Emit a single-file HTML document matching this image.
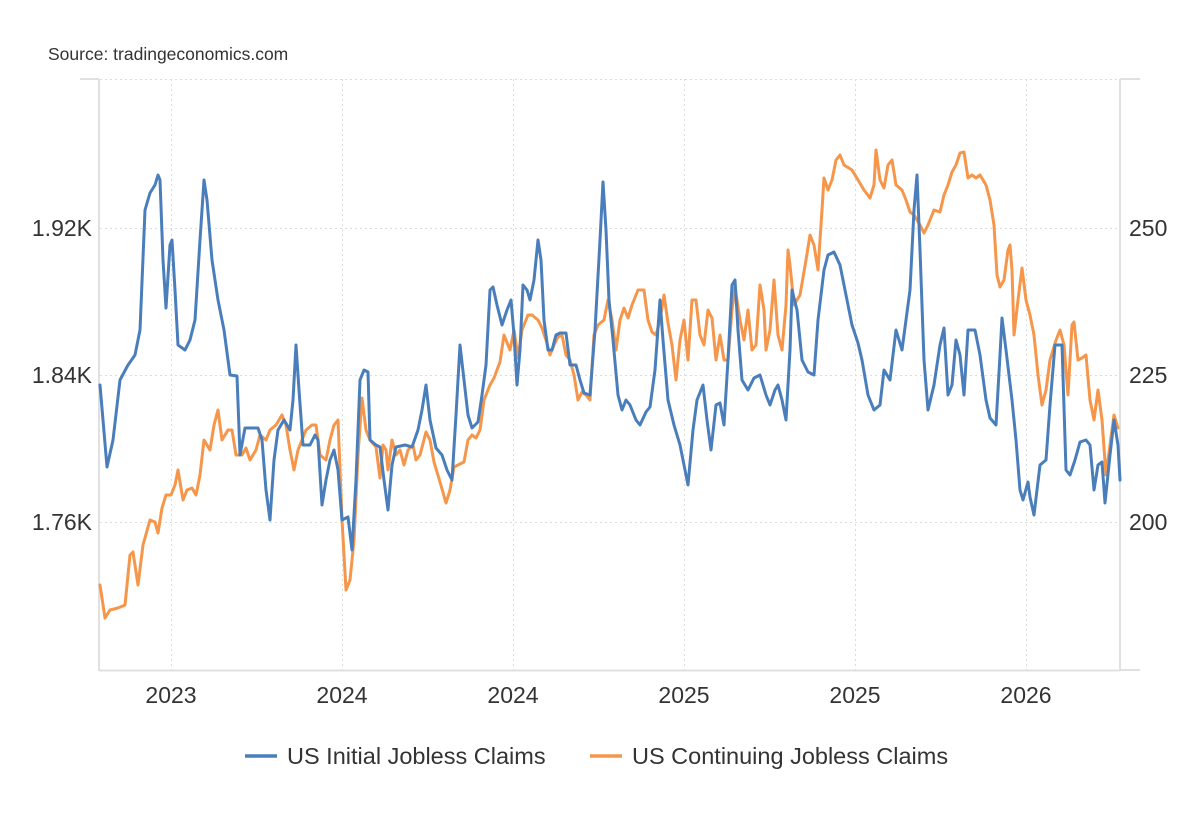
<!DOCTYPE html>
<html><head><meta charset="utf-8"><style>
html,body{margin:0;padding:0;background:#fff;}
svg{display:block;font-family:"Liberation Sans",Arial,sans-serif;}
</style></head><body>
<svg width="1200" height="820" viewBox="0 0 1200 820" xmlns="http://www.w3.org/2000/svg">
<text x="48" y="60" font-size="17.5" fill="#333">Source: tradingeconomics.com</text>
<g stroke="#dcdcdc" stroke-width="1" stroke-dasharray="2,3" fill="none">
<line x1="100" y1="79.5" x2="1120" y2="79.5"/>
<line x1="100" y1="228.5" x2="1120" y2="228.5"/>
<line x1="100" y1="375.5" x2="1120" y2="375.5"/>
<line x1="100" y1="522.5" x2="1120" y2="522.5"/>
<line x1="171.5" y1="79" x2="171.5" y2="670"/>
<line x1="342.5" y1="79" x2="342.5" y2="670"/>
<line x1="513.5" y1="79" x2="513.5" y2="670"/>
<line x1="684.5" y1="79" x2="684.5" y2="670"/>
<line x1="855.5" y1="79" x2="855.5" y2="670"/>
<line x1="1026.5" y1="79" x2="1026.5" y2="670"/>
</g>
<g stroke="#e0e0e0" stroke-width="2" fill="none">
<line x1="99" y1="79" x2="99" y2="671"/>
<line x1="1120" y1="79" x2="1120" y2="671"/>
<line x1="99" y1="670.5" x2="1120" y2="670.5"/>
<line x1="80" y1="79" x2="99" y2="79"/>
<line x1="1120" y1="79" x2="1140" y2="79"/>
<line x1="1120" y1="670" x2="1140" y2="670"/>
</g>
<g font-size="23" fill="#333">
<text x="92" y="236" text-anchor="end">1.92K</text>
<text x="92" y="383" text-anchor="end">1.84K</text>
<text x="92" y="530" text-anchor="end">1.76K</text>
<text x="1129" y="236">250</text>
<text x="1129" y="383">225</text>
<text x="1129" y="530">200</text>
</g>
<g font-size="23" fill="#333" text-anchor="middle">
<text x="171" y="703">2023</text>
<text x="342" y="703">2024</text>
<text x="513" y="703">2024</text>
<text x="684" y="703">2025</text>
<text x="855" y="703">2025</text>
<text x="1026" y="703">2026</text>
</g>
<polyline fill="none" stroke="#f5964a" stroke-width="3" stroke-linejoin="round" stroke-linecap="round" points="100,585 105,618 110,610 118,608 125,605 130,555 133,552 138,585 143,545 150,520 155,522 158,533 162,508 166,495 171,495 175,485 178,470 183,500 187,490 192,488 196,495 200,475 204,440 210,450 214,425 218,410 222,440 228,430 232,430 236,455 242,455 246,448 250,460 256,450 260,435 266,440 270,430 276,425 282,415 286,425 290,450 294,470 298,450 302,440 306,430 312,425 316,425 320,455 326,460 330,440 334,425 338,420 342,520 346,590 350,580 354,540 358,455 362,398 366,430 370,440 376,447 380,478 383,445 386,450 388,470 392,440 396,455 400,450 404,465 408,450 413,445 416,460 420,455 426,432 430,440 434,462 440,482 446,503 450,490 454,467 458,465 464,462 468,440 472,435 476,438 480,430 484,400 490,385 494,378 500,362 504,335 510,350 514,330 518,358 522,330 528,315 532,315 538,320 542,328 546,340 550,355 554,345 558,337 562,335 566,355 570,360 574,375 578,400 582,392 586,395 590,400 594,335 598,325 604,320 608,300 612,320 616,350 620,320 624,308 628,318 632,305 638,290 644,290 648,320 652,332 656,335 660,320 664,295 668,323 672,345 676,380 680,340 684,320 688,360 692,300 696,300 700,335 704,345 708,310 712,318 716,360 720,335 724,360 728,360 732,310 735,287 740,320 744,340 748,310 752,350 756,345 760,285 764,310 766,350 770,330 774,280 778,335 782,350 786,305 788,250 790,265 794,305 800,295 806,260 810,235 814,245 818,270 822,210 824,178 828,190 832,180 836,160 840,155 844,165 852,170 858,180 864,190 870,198 874,185 876,150 880,180 884,188 888,165 892,160 896,185 902,190 906,200 910,212 914,215 920,225 924,233 928,225 934,210 940,212 944,195 948,185 952,172 956,165 960,153 964,152 968,178 972,175 976,178 980,175 986,185 990,200 994,225 997,275 1000,287 1004,280 1008,250 1010,245 1012,270 1014,335 1018,300 1022,268 1026,300 1030,315 1034,335 1038,375 1042,405 1046,390 1050,360 1056,340 1060,330 1064,345 1068,395 1072,325 1074,322 1078,360 1082,358 1086,355 1090,400 1094,420 1098,390 1102,420 1106,475 1110,445 1114,415 1118,428"/>
<polyline fill="none" stroke="#4a7ebb" stroke-width="3" stroke-linejoin="round" stroke-linecap="round" points="100,385 107,467 113,440 120,380 128,365 135,355 140,330 145,210 150,193 155,185 158,175 160,180 163,260 166,308 170,245 172,240 175,290 178,345 185,350 190,340 195,320 200,240 204,180 207,200 212,260 218,300 224,330 230,375 237,376 240,455 245,428 258,428 262,440 266,490 270,520 274,460 278,430 284,420 290,430 293,400 296,345 299,390 303,445 310,445 315,435 318,440 322,505 326,480 330,460 334,450 338,470 342,520 348,517 352,550 356,480 360,380 364,370 368,372 370,440 376,445 380,447 384,480 388,510 392,465 396,447 405,445 412,447 418,430 422,410 426,385 430,420 436,448 442,455 447,470 452,480 456,415 460,345 464,380 468,415 472,428 478,422 482,395 486,365 490,290 493,287 497,305 502,325 507,310 511,300 514,335 517,385 520,350 523,285 527,290 530,300 534,280 538,240 541,260 544,320 548,350 552,350 556,335 560,333 566,333 570,365 576,365 580,380 584,393 590,395 595,330 600,240 603,182 606,230 609,300 613,340 618,395 622,410 626,400 630,405 636,420 640,425 646,412 650,407 655,370 660,300 663,340 668,400 674,425 680,445 688,485 693,430 697,400 703,385 707,420 711,450 716,405 720,403 724,425 728,360 732,285 735,280 738,330 742,380 748,390 754,378 760,375 766,395 770,405 775,390 778,385 782,400 786,420 790,350 792,290 797,310 802,360 808,372 814,375 818,320 824,270 828,255 834,252 840,265 846,295 852,325 858,343 862,360 868,395 874,410 880,405 884,370 890,380 896,330 902,350 906,320 910,290 914,210 917,175 920,250 924,360 928,410 934,385 940,345 944,328 948,395 952,385 956,340 960,355 964,395 968,330 975,330 980,355 986,400 990,418 996,425 1000,355 1002,318 1006,350 1012,400 1016,440 1020,490 1023,500 1028,482 1030,497 1034,515 1040,465 1046,460 1050,405 1055,345 1062,345 1066,470 1070,475 1075,460 1080,442 1086,440 1090,445 1094,490 1098,465 1102,462 1105,503 1110,455 1114,420 1118,445 1120,480"/>
<line x1="245" y1="756" x2="277" y2="756" stroke="#4a7ebb" stroke-width="3.5"/>
<text x="287" y="764" font-size="23.5" fill="#333">US Initial Jobless Claims</text>
<line x1="590" y1="756" x2="622" y2="756" stroke="#f5964a" stroke-width="3.5"/>
<text x="632" y="764" font-size="23.5" fill="#333">US Continuing Jobless Claims</text>
</svg>
</body></html>
